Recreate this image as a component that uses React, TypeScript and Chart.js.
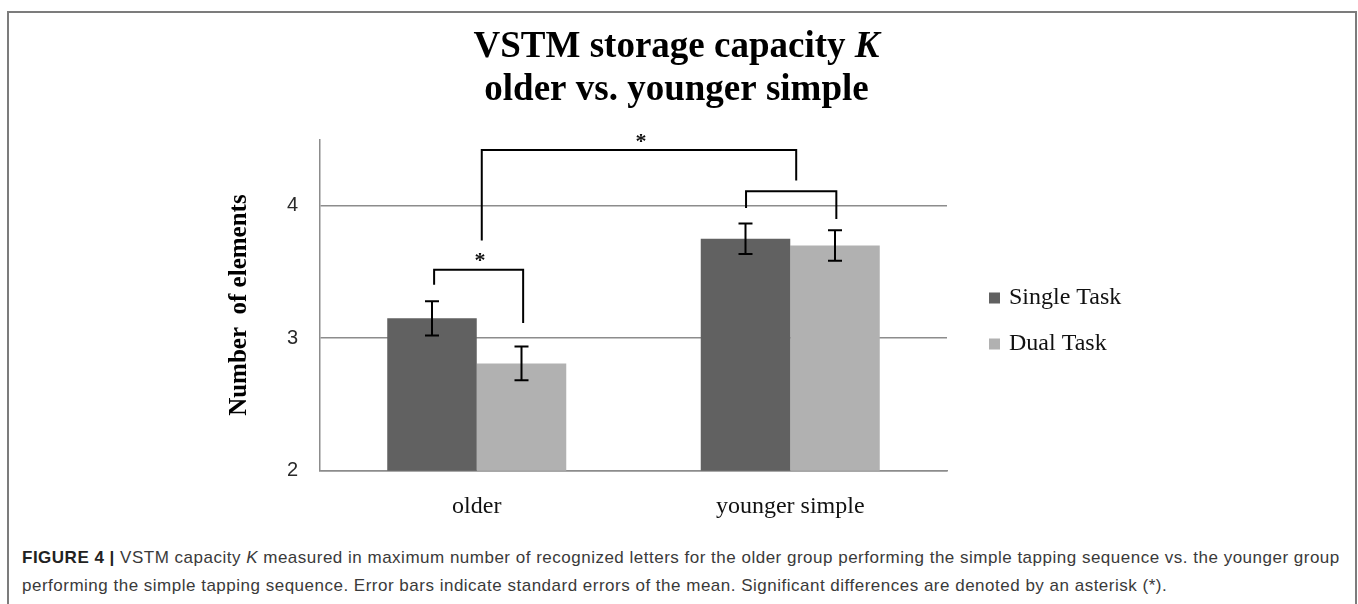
import React, { useEffect, useRef } from 'react';
import { Chart, registerables } from 'chart.js';

Chart.register(...registerables);

// ---- data ----
const categories = ['older', 'younger simple'];
const seriesLabels = ['Single Task', 'Dual Task'];
const singleTask = [3.15, 3.75];
const dualTask = [2.81, 3.70];
const singleTaskErr = [0.13, 0.115];
const dualTaskErr = [0.128, 0.115];
const seriesColors = ['#616161', '#b1b1b1'];
const yTickValues = [2, 3, 4];
const titleLine1 = 'VSTM storage capacity ';
const titleLine1Italic = 'K';
const titleLine2 = 'older vs. younger simple';
const yAxisTitle = 'Number  of elements';
// significance brackets, in data units (x = category index, y = value)
const bracketX1 = [-0.136, 0.859, 0.016];
const bracketX2 = [0.148, 1.147, 1.019];
const bracketTop = [3.517, 4.109, 4.42];
const bracketY1 = [3.404, 3.983, 3.738];
const bracketY2 = [3.114, 3.9, 4.19];
const starX = [0.01, 0.524];
const starY = [3.608, 4.507];

const seriesValues = [singleTask, dualTask];
const seriesErrors = [singleTaskErr, dualTaskErr];

const SERIF = '"Liberation Serif", "Times New Roman", serif';
const SANS = '"Liberation Sans", Arial, sans-serif';
const RIGHT_PAD = 11;

const overlayPlugin = {
  id: 'overlay',
  afterDatasetsDraw(chart: any) {
    const { ctx, scales } = chart;
    const x = scales.x;
    const y = scales.y;
    ctx.save();
    ctx.strokeStyle = '#000';
    ctx.lineWidth = 2;
    // error bars
    seriesErrors.forEach((errs, di) => {
      const meta = chart.getDatasetMeta(di);
      meta.data.forEach((bar: any, i: number) => {
        const v = seriesValues[di][i];
        const yt = y.getPixelForValue(v + errs[i]);
        const yb = y.getPixelForValue(v - errs[i]);
        const cx = bar.x;
        ctx.beginPath();
        ctx.moveTo(cx, yt);
        ctx.lineTo(cx, yb);
        ctx.moveTo(cx - 7, yt);
        ctx.lineTo(cx + 7, yt);
        ctx.moveTo(cx - 7, yb);
        ctx.lineTo(cx + 7, yb);
        ctx.stroke();
      });
    });
    // brackets
    bracketX1.forEach((_, k) => {
      const x1 = x.getPixelForValue(bracketX1[k]);
      const x2 = x.getPixelForValue(bracketX2[k]);
      const yt = y.getPixelForValue(bracketTop[k]);
      const y1 = y.getPixelForValue(bracketY1[k]);
      const y2 = y.getPixelForValue(bracketY2[k]);
      ctx.beginPath();
      ctx.moveTo(x1, y1);
      ctx.lineTo(x1, yt);
      ctx.lineTo(x2, yt);
      ctx.lineTo(x2, y2);
      ctx.stroke();
    });
    // asterisks
    ctx.fillStyle = '#111';
    ctx.font = `bold 22px ${SERIF}`;
    ctx.textAlign = 'center';
    ctx.textBaseline = 'middle';
    starX.forEach((sx, k) => {
      ctx.fillText('*', x.getPixelForValue(sx), y.getPixelForValue(starY[k]) + 4);
    });
    ctx.restore();
  },
  afterDraw(chart: any) {
    const { ctx, chartArea } = chart;
    ctx.save();
    // title (with italic K)
    const cx = (chart.width - RIGHT_PAD) / 2;
    ctx.fillStyle = '#000';
    ctx.textBaseline = 'alphabetic';
    ctx.textAlign = 'left';
    const fBold = `bold 37px ${SERIF}`;
    const fItal = `italic bold 37px ${SERIF}`;
    ctx.font = fBold;
    const w1 = ctx.measureText(titleLine1).width;
    ctx.font = fItal;
    const w2 = ctx.measureText(titleLine1Italic).width;
    const sx = cx - (w1 + w2) / 2;
    ctx.font = fBold;
    ctx.fillText(titleLine1, sx, 43.5);
    ctx.font = fItal;
    ctx.fillText(titleLine1Italic, sx + w1, 43.5);
    ctx.font = fBold;
    ctx.textAlign = 'center';
    ctx.fillText(titleLine2, cx, 86.5);

    // legend
    const bx = chartArea.right + 42;
    const by0 = chartArea.top + 158.5;
    ctx.font = `24px ${SERIF}`;
    ctx.textAlign = 'left';
    ctx.textBaseline = 'middle';
    chart.data.datasets.forEach((ds: any, i: number) => {
      const cy = by0 + i * 46;
      ctx.fillStyle = ds.backgroundColor;
      ctx.fillRect(bx, cy - 5.5, 11, 11);
      ctx.fillStyle = '#111';
      ctx.fillText(ds.label, bx + 20, cy);
    });
    ctx.restore();
  },
};

export default function App() {
  const canvasRef = useRef<HTMLCanvasElement>(null);

  useEffect(() => {
    const canvas = canvasRef.current;
    if (!canvas) return;
    const chart = new Chart(canvas, {
      type: 'bar',
      data: {
        labels: categories,
        datasets: seriesLabels.map((label, i) => ({
          label,
          data: seriesValues[i],
          backgroundColor: seriesColors[i],
          borderWidth: 0,
          barPercentage: 1,
          categoryPercentage: 0.571,
          yAxisID: 'y',
        })),
      },
      options: {
        responsive: false,
        animation: false,
        layout: { padding: { left: 0, right: RIGHT_PAD, top: 126.5, bottom: 11.5 } },
        plugins: {
          legend: { display: false },
          tooltip: { enabled: false },
          title: { display: false },
        },
        scales: {
          x: {
            grid: { display: false, drawTicks: false },
            border: { display: true, color: '#8c8c8c', width: 1.5 },
            ticks: {
              color: '#111',
              font: { family: SERIF, size: 24, lineHeight: 1.2 },
              padding: 22,
            },
            afterFit: (scale: any) => {
              scale.height = 50.8;
            },
          },
          y: {
            min: 2,
            max: 4.5,
            afterBuildTicks: (scale: any) => {
              scale.ticks = yTickValues.map((v) => ({ value: v }));
            },
            afterFit: (scale: any) => {
              scale.width = 311;
            },
            grid: { color: '#8c8c8c', lineWidth: 1.5, drawTicks: false },
            border: { display: true, color: '#8c8c8c', width: 1.5 },
            ticks: {
              color: '#2a2a2a',
              font: { family: SANS, size: 20 },
              padding: 22,
            },
            title: {
              display: true,
              text: yAxisTitle,
              color: '#000',
              font: { family: SERIF, size: 25, weight: 'bold', lineHeight: 1.2 },
              padding: { top: 216, bottom: 0 },
            },
          },
          yRight: {
            position: 'right',
            display: true,
            grid: { display: false, drawTicks: false },
            border: { display: false },
            ticks: { display: false },
            afterFit: (scale: any) => {
              scale.width = 397;
            },
          },
        },
      },
      plugins: [overlayPlugin],
    } as any);
    return () => chart.destroy();
  }, []);

  return (
    <div
      style={{
        position: 'absolute',
        left: 7,
        top: 11,
        width: 1350,
        height: 593,
        boxSizing: 'border-box',
        border: '2px solid #7c7c7c',
        borderBottom: 'none',
        background: '#fff',
        overflow: 'hidden',
      }}
    >
      <canvas ref={canvasRef} width={1346} height={520} style={{ position: 'absolute', left: 0, top: 0 }} />
      <div
        style={{
          position: 'absolute',
          left: 13,
          top: 531,
          font: `17px ${SANS}`,
          letterSpacing: '0.5px',
          lineHeight: '28px',
          color: '#3a3a3a',
          whiteSpace: 'nowrap',
        }}
      >
        <b style={{ color: '#222' }}>FIGURE 4 |</b> VSTM capacity <i>K</i> measured in maximum number of recognized letters for the older group performing the simple tapping sequence vs. the younger group
        <br />
        performing the simple tapping sequence. Error bars indicate standard errors of the mean. Significant differences are denoted by an asterisk (*).
      </div>
    </div>
  );
}
